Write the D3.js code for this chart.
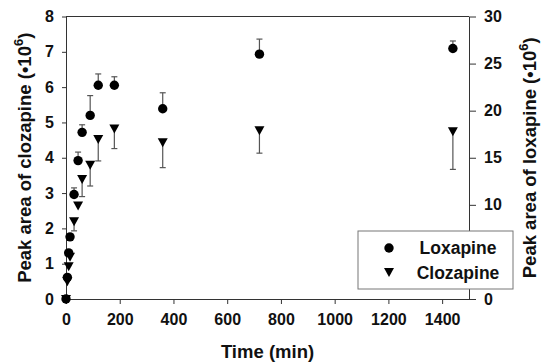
<!DOCTYPE html>
<html>
<head>
<meta charset="utf-8">
<script src="https://cdn.jsdelivr.net/npm/d3@7"></script>
<style>
  html, body { margin: 0; padding: 0; background: #fff; }
  svg text { font-family: "Liberation Sans", Arial, sans-serif; font-weight: bold; fill: #111; }
</style>
</head>
<body>
<svg id="chart" width="542" height="364"></svg>
<script>
// time points (min)
const times = [0, 5, 10, 15, 30, 45, 60, 90, 120, 180, 360, 720, 1440];
// loxapine peak area (·10^6), right axis, error drawn upward
const loxapine = [0, 2.3, 4.9, 6.6, 11.1, 14.7, 17.7, 19.5, 22.7, 22.7, 20.2, 26.0, 26.6];
const loxapineErr = [0, 0, 0, 0, 0.7, 0.9, 0.8, 2.1, 1.2, 0.9, 1.7, 1.6, 0.8];
// clozapine peak area (·10^6), left axis, error drawn downward
const clozapine = [0, 0.5, 0.93, 1.2, 2.2, 2.65, 3.4, 3.8, 4.53, 4.83, 4.44, 4.78, 4.75];
const clozapineErr = [0, 0, 0, 0, 0.27, 0, 0.5, 0.6, 0.62, 0.57, 0.72, 0.65, 1.08];

const xTicks = [0, 200, 400, 600, 800, 1000, 1200, 1400];
const leftTicks = [0, 1, 2, 3, 4, 5, 6, 7, 8];
const rightTicks = [0, 5, 10, 15, 20, 25, 30];
// the label of 5 sits under the legend box in the original
const rightHidden = [5];

const svg = d3.select('#chart');
const margin = { top: 16.5, right: 73, bottom: 65, left: 66 };
const W = 542, H = 364;

const x = d3.scaleLinear().domain([0, 1500]).range([margin.left, W - margin.right]);
const yL = d3.scaleLinear().domain([0, 8]).range([H - margin.bottom, margin.top]);
const yR = d3.scaleLinear().domain([0, 30]).range([H - margin.bottom, margin.top]);

const axisColor = '#333';

// top frame line
svg.append('line')
  .attr('x1', x(0)).attr('x2', x(1500))
  .attr('y1', yL(8)).attr('y2', yL(8))
  .attr('stroke', axisColor).attr('stroke-width', 1);

function styleAxis(g) {
  g.select('.domain').attr('stroke', axisColor);
  g.selectAll('.tick line').attr('stroke', axisColor);
  g.selectAll('.tick text').attr('font-size', 16).attr('fill', '#111')
    .attr('font-family', '"Liberation Sans", Arial, sans-serif').attr('font-weight', 'bold');
}

svg.append('g')
  .attr('transform', `translate(0,${yL(0)})`)
  .call(d3.axisBottom(x).tickValues(xTicks).tickFormat(d3.format('d'))
    .tickSize(5).tickSizeOuter(0).tickPadding(10))
  .call(styleAxis);

svg.append('g')
  .attr('transform', `translate(${x(0)},0)`)
  .call(d3.axisLeft(yL).tickValues(leftTicks).tickSize(4).tickSizeOuter(0).tickPadding(8))
  .call(styleAxis);

svg.append('g')
  .attr('transform', `translate(${x(1500)},0)`)
  .call(d3.axisRight(yR).tickValues(rightTicks)
    .tickFormat(d => rightHidden.includes(d) ? '' : d)
    .tickSize(7).tickSizeOuter(0).tickPadding(8))
  .call(styleAxis);

// axis titles
const titleSize = 18.5;
svg.append('text')
  .attr('x', (x(0) + x(1500)) / 2).attr('y', 358)
  .attr('text-anchor', 'middle').attr('font-size', titleSize)
  .text('Time (min)');

function rotatedTitle(cx, label) {
  const t = svg.append('text')
    .attr('transform', `translate(${cx},${(yL(0) + yL(8)) / 2}) rotate(-90)`)
    .attr('text-anchor', 'middle').attr('font-size', titleSize);
  t.append('tspan').text(label + ' (•10');
  t.append('tspan').attr('dy', -8).attr('font-size', 13).text('6');
  t.append('tspan').attr('dy', 8).text(')');
}
rotatedTitle(31, 'Peak area of clozapine');
rotatedTitle(536, 'Peak area of loxapine');

// error bars
const cap = 3;
const errColor = '#555';
const lox = times.map((t, i) => ({ t, v: loxapine[i], e: loxapineErr[i] }));
const clz = times.map((t, i) => ({ t, v: clozapine[i], e: clozapineErr[i] }));

const errG = svg.append('g').attr('stroke', errColor).attr('stroke-width', 1.2);
lox.filter(d => d.e > 0).forEach(d => {
  const cx = x(d.t), y0 = yR(d.v), y1 = yR(d.v + d.e);
  errG.append('line').attr('x1', cx).attr('x2', cx).attr('y1', y0).attr('y2', y1);
  errG.append('line').attr('x1', cx - cap).attr('x2', cx + cap).attr('y1', y1).attr('y2', y1);
});
clz.filter(d => d.e > 0).forEach(d => {
  const cx = x(d.t), y0 = yL(d.v), y1 = yL(d.v - d.e);
  errG.append('line').attr('x1', cx).attr('x2', cx).attr('y1', y0).attr('y2', y1);
  errG.append('line').attr('x1', cx - cap).attr('x2', cx + cap).attr('y1', y1).attr('y2', y1);
});

// markers
const triDown = 'M-5,-4L5,-4L0,5Z';

svg.append('g').selectAll('path')
  .data(clz)
  .join('path')
  .attr('d', triDown)
  .attr('transform', d => `translate(${x(d.t)},${yL(d.v)})`)
  .attr('fill', '#000');

svg.append('g').selectAll('circle')
  .data(lox)
  .join('circle')
  .attr('cx', d => x(d.t))
  .attr('cy', d => yR(d.v))
  .attr('r', 4.7)
  .attr('fill', '#000');

// legend
const lg = svg.append('g');
lg.append('rect')
  .attr('x', 358).attr('y', 231).attr('width', 155).attr('height', 58)
  .attr('fill', '#fff').attr('stroke', '#777').attr('stroke-width', 1);
lg.append('circle').attr('cx', 389).attr('cy', 248).attr('r', 4.7).attr('fill', '#000');
lg.append('path').attr('d', triDown).attr('transform', 'translate(389,272)').attr('fill', '#000');
lg.append('text').attr('x', 458).attr('y', 254).attr('text-anchor', 'middle')
  .attr('font-size', 17.5).text('Loxapine');
lg.append('text').attr('x', 458).attr('y', 278.5).attr('text-anchor', 'middle')
  .attr('font-size', 17.5).text('Clozapine');
</script>
</body>
</html>
